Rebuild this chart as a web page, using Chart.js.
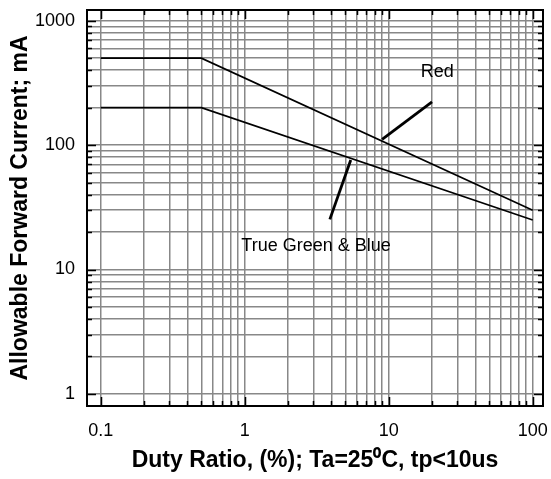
<!DOCTYPE html>
<html>
<head>
<meta charset="utf-8">
<script src="https://cdn.jsdelivr.net/npm/chart.js@4"></script>
<style>
    html, body { margin: 0; padding: 0; background: #fff; }
</style>
</head>
<body>
<canvas id="chart" width="551" height="479"></canvas>
<script>
// Dados (escala log-log)
const dutyRatio = [0.1, 0.5, 100];
const redCurrent = [500, 500, 30];
const greenBlueCurrent = [200, 200, 25];

// linhas de chamada das legendas (em coordenadas de dados)
const redLeaderX = [20, 9];
const redLeaderY = [223, 111];
const gbLeaderX = [5.45, 3.9];
const gbLeaderY = [75.9, 25.3];

const noteText = ['Red', 'True Green & Blue'];
const noteX = [21.7, 3.13];
const noteY = [387, 15.4];

const xTicks = [0.1, 0.2, 0.3, 0.4, 0.5, 0.6, 0.7, 0.8, 0.9,
    1, 2, 3, 4, 5, 6, 7, 8, 9,
    10, 20, 30, 40, 50, 60, 70, 80, 90, 100];
const yTicks = [1, 2, 3, 4, 5, 6, 7, 8, 9,
    10, 20, 30, 40, 50, 60, 70, 80, 90,
    100, 200, 300, 400, 500, 600, 700, 800, 900, 1000];
const xLabels = ['0.1', '1', '10', '100'];
const yLabels = ['1', '10', '100', '1000'];

const FONT = 'Liberation Sans, Arial, sans-serif';
const toPoints = (xs, ys) => xs.map((x, i) => ({ x, y: ys[i] }));
const isDecade = v => Math.abs(Math.log10(v) - Math.round(Math.log10(v))) < 1e-9;

// moldura, ticks internos e textos das legendas
const framePlugin = {
    id: 'frame',
    afterDraw(chart) {
        const { ctx, chartArea: a, scales: { x, y } } = chart;
        ctx.save();
        ctx.strokeStyle = '#000';
        ctx.lineWidth = 1.5;
        ctx.beginPath();
        xTicks.forEach(v => {
            const px = Math.round(x.getPixelForValue(v)) + 0.5;
            const len = isDecade(v) ? 9 : 5;
            ctx.moveTo(px, a.bottom); ctx.lineTo(px, a.bottom - len);
            ctx.moveTo(px, a.top); ctx.lineTo(px, a.top + len);
        });
        yTicks.forEach(v => {
            const py = Math.round(y.getPixelForValue(v)) + 0.5;
            const len = isDecade(v) ? 9 : 5;
            ctx.moveTo(a.left, py); ctx.lineTo(a.left + len, py);
            ctx.moveTo(a.right, py); ctx.lineTo(a.right - len, py);
        });
        ctx.stroke();

        ctx.lineWidth = 2;
        ctx.strokeRect(a.left, a.top, a.right - a.left, a.bottom - a.top);

        ctx.fillStyle = '#000';
        ctx.font = '18px ' + FONT;
        ctx.textAlign = 'center';
        ctx.textBaseline = 'middle';
        noteText.forEach((t, i) => {
            ctx.fillText(t, x.getPixelForValue(noteX[i]), y.getPixelForValue(noteY[i]));
        });
        ctx.restore();
    }
};

const lineStyle = { borderColor: '#000', borderWidth: 1.6, pointRadius: 0, fill: false, tension: 0 };
const leaderStyle = { borderColor: '#000', borderWidth: 2.8, pointRadius: 0, fill: false, tension: 0 };

new Chart(document.getElementById('chart'), {
    type: 'line',
    data: {
        datasets: [
            { label: 'Red', data: toPoints(dutyRatio, redCurrent), ...lineStyle },
            { label: 'True Green & Blue', data: toPoints(dutyRatio, greenBlueCurrent), ...lineStyle },
            { label: 'red-leader', data: toPoints(redLeaderX, redLeaderY), ...leaderStyle },
            { label: 'gb-leader', data: toPoints(gbLeaderX, gbLeaderY), ...leaderStyle }
        ]
    },
    options: {
        responsive: false,
        animation: false,
        devicePixelRatio: 1,
        layout: { padding: { left: 0, right: 8, top: 10, bottom: 0 } },
        plugins: { legend: { display: false }, tooltip: { enabled: false } },
        scales: {
            x: {
                type: 'logarithmic',
                min: 0.0803,
                max: 117.9,
                afterBuildTicks: s => { s.ticks = xTicks.map(v => ({ value: v })); },
                // altura fixa e sem folga extra para os rótulos das pontas
                afterFit: s => { s.height = 73; s.paddingLeft = 0; s.paddingRight = 0; },
                grid: { color: '#888', lineWidth: 1.5, drawTicks: false },
                border: { display: false },
                ticks: {
                    autoSkip: false, maxRotation: 0, padding: 14, color: '#000',
                    font: { family: FONT, size: 18 },
                    callback: v => xLabels.includes(String(v)) ? String(v) : ''
                },
                title: {
                    display: true,
                    text: 'Duty Ratio, (%); Ta=25\u2070C, tp<10us',
                    color: '#000',
                    font: { family: FONT, size: 23, weight: 'bold' },
                    padding: { top: 0, bottom: 5 }
                }
            },
            y: {
                type: 'logarithmic',
                min: 0.8,
                max: 1219,
                afterBuildTicks: s => { s.ticks = yTicks.map(v => ({ value: v })); },
                afterFit: s => { s.width = 87; s.paddingTop = 0; s.paddingBottom = 0; },
                grid: { color: '#888', lineWidth: 1.5, drawTicks: false },
                border: { display: false },
                ticks: {
                    autoSkip: false, padding: 12, color: '#000',
                    font: { family: FONT, size: 18 },
                    callback: v => yLabels.includes(String(v)) ? String(v) : ''
                },
                title: {
                    display: true,
                    text: 'Allowable Forward Current; mA',
                    color: '#000',
                    font: { family: FONT, size: 23, weight: 'bold' },
                    padding: { top: 7, bottom: 0 }
                }
            }
        }
    },
    plugins: [framePlugin]
});
</script>
</body>
</html>
